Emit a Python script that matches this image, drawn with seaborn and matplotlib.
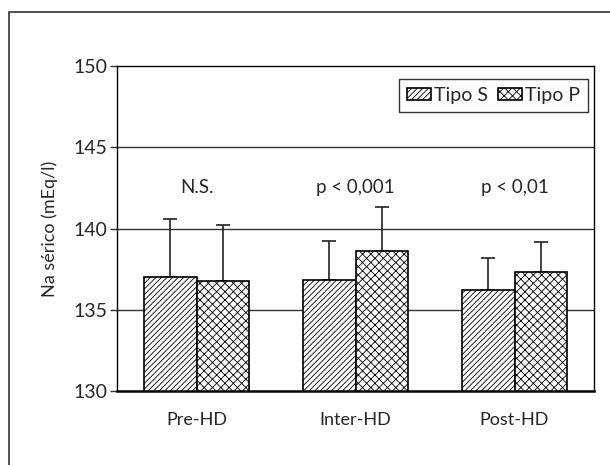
import pandas as pd
import matplotlib.pyplot as plt
import matplotlib.patches as mpatches
import seaborn as sns

# Values
fases = ["Pre-HD", "Inter-HD", "Post-HD"]
tipo_s = [137.0, 136.85, 136.2]
tipo_p = [136.75, 138.6, 137.3]
sd_s = [3.6, 2.4, 2.0]
sd_p = [3.45, 2.7, 1.9]
sig_labels = ["N.S.", "p < 0,001", "p < 0,01"]
sig_y = 142.5

df = pd.DataFrame({
    "Fase": fases * 2,
    "Na": tipo_s + tipo_p,
    "Tipo": ["Tipo S"] * 3 + ["Tipo P"] * 3,
})

sns.set_style("white")
plt.rcParams['font.family'] = ['Lato', 'DejaVu Sans']
plt.rcParams['hatch.linewidth'] = 0.6

fig = plt.figure(figsize=(6.1, 4.65), dpi=100)
ax = fig.add_axes([0.1918, 0.1591, 0.782, 0.6989])

# Outer frame (cropped at right/bottom)
fig.patches.append(mpatches.Rectangle((0.0148, -0.2), 1.5, 0.974 + 0.2,
                                      transform=fig.transFigure, fill=False,
                                      edgecolor="#444444", linewidth=1.3))

for v in [135, 140, 145]:
    ax.axhline(v, color="#333333", linewidth=1.0, zorder=0)

sns.barplot(data=df, x="Fase", y="Na", hue="Tipo", order=fases,
            hue_order=["Tipo S", "Tipo P"], errorbar=None, width=0.66,
            palette=["white", "white"], edgecolor="black", linewidth=1.2,
            ax=ax, legend=False, zorder=2)

hatches = ["//////", "xxxx"]
errs = [sd_s, sd_p]
for cont, h, e in zip(ax.containers, hatches, errs):
    xs = []
    ys = []
    for p in cont.patches:
        p.set_hatch(h)
        p.set_facecolor("white")
        p.set_edgecolor("black")
        p.set_zorder(2)
        xs.append(p.get_x() + p.get_width() / 2)
        ys.append(p.get_y() + p.get_height())
    ax.errorbar(xs, ys, yerr=[[0] * len(e), e], fmt="none", ecolor="#222222",
                elinewidth=1.2, capsize=5, capthick=1.2, zorder=1)

for i, lab in enumerate(sig_labels):
    ax.text(i, sig_y, lab, ha="center", va="center", fontsize=13.5)

ax.set_ylim(130, 150)
ax.set_xlim(-0.5, 2.5)
ax.set_yticks([130, 135, 140, 145, 150])
ax.tick_params(axis="y", direction="out", length=5, width=1, color="#333333",
               labelsize=14, pad=2, left=True)
ax.tick_params(axis="x", length=0, labelsize=13, pad=15)
ax.set_xlabel("")
ax.set_ylabel("Na sérico (mEq/l)", fontsize=13, labelpad=11)

for s in ax.spines.values():
    s.set_visible(True)
    s.set_color("black")
    s.set_linewidth(1.0)
ax.spines["bottom"].set_linewidth(1.8)

leg = ax.legend(ax.containers, ["Tipo S", "Tipo P"], ncol=2, loc="upper right",
                bbox_to_anchor=(0.9874, 0.96), borderaxespad=0,
                fancybox=False, edgecolor="black", fontsize=14,
                handlelength=1.25, handleheight=0.6, handletextpad=0.15,
                columnspacing=0.5, borderpad=0.4)
leg.get_frame().set_linewidth(1.0)

fig.savefig("out.png", dpi=100)
